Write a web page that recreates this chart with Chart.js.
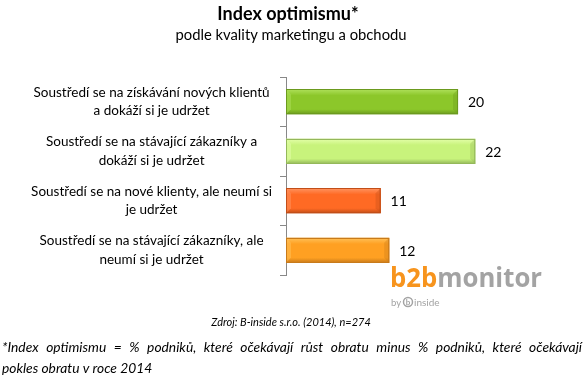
<!DOCTYPE html>
<html>
<head>
<meta charset="utf-8">
<script src="https://cdn.jsdelivr.net/npm/chart.js@4/dist/chart.umd.min.js"></script>
<style>
  html, body { margin: 0; padding: 0; background: #fff; }
  #wrap { width: 585px; height: 384px; position: relative; }
</style>
</head>
<body>
<div id="wrap"><canvas id="chart" width="585" height="384"></canvas></div>
<script>
const categories = [
    ['Soustředí se na získávání nových klientů', 'a dokáží si je udržet'],
    ['Soustředí se na stávající zákazníky a', 'dokáží si je udržet'],
    ['Soustředí se na nové klienty, ale neumí si', 'je udržet'],
    ['Soustředí se na stávající zákazníky, ale', 'neumí si je udržet']
];
const values = [20, 22, 11, 12];
const barColors = ['#8cc72a', '#c8f37c', '#ff6a24', '#ffa022'];
const barLight = ['#aee05a', '#e4ffaa', '#ff9460', '#ffc25a'];
const barDark = ['#6b9a1e', '#94b85a', '#c24e18', '#c87a1a'];

const FONT = 'Lato, "Open Sans", sans-serif';

// bevel look on top of the plain bars
const bevelPlugin = {
    id: 'bevel',
    afterDatasetsDraw(chart) {
        const ctx = chart.ctx;
        const meta = chart.getDatasetMeta(0);
        meta.data.forEach(function (bar, i) {
            const x0 = bar.base, x1 = bar.x;
            const h = bar.height, y0 = bar.y - h / 2, y1 = bar.y + h / 2;
            ctx.save();
            const g = ctx.createLinearGradient(0, y0, 0, y1);
            g.addColorStop(0, barLight[i]);
            g.addColorStop(0.25, barColors[i]);
            g.addColorStop(0.8, barColors[i]);
            g.addColorStop(1, barDark[i]);
            ctx.fillStyle = g;
            ctx.fillRect(x0, y0, x1 - x0, h);
            // right end bevel
            const b = 5;
            ctx.fillStyle = barDark[i];
            ctx.globalAlpha = 0.35;
            ctx.beginPath();
            ctx.moveTo(x1, y0);
            ctx.lineTo(x1 - b, y0 + b);
            ctx.lineTo(x1 - b, y1 - b);
            ctx.lineTo(x1, y1);
            ctx.closePath();
            ctx.fill();
            // left end bevel
            ctx.fillStyle = barLight[i];
            ctx.globalAlpha = 0.5;
            ctx.beginPath();
            ctx.moveTo(x0, y0);
            ctx.lineTo(x0 + b, y0 + b);
            ctx.lineTo(x0 + b, y1 - b);
            ctx.lineTo(x0, y1);
            ctx.closePath();
            ctx.fill();
            ctx.globalAlpha = 1;
            ctx.strokeStyle = barDark[i];
            ctx.lineWidth = 1;
            ctx.strokeRect(x0 + 0.5, Math.round(y0) + 0.5, x1 - x0 - 1, Math.round(h) - 1);
            // value label
            ctx.fillStyle = '#000';
            ctx.font = '14px ' + FONT;
            ctx.textAlign = 'left';
            ctx.textBaseline = 'middle';
            ctx.fillText(String(values[i]), x1 + 10, bar.y + 1);
            ctx.restore();
        });
    }
};

function justifyLine(ctx, text, x0, x1, y) {
    const words = text.split(' ');
    let total = 0;
    words.forEach(w => total += ctx.measureText(w).width);
    const gap = (x1 - x0 - total) / (words.length - 1);
    let x = x0;
    words.forEach(function (w) {
        ctx.fillText(w, x, y);
        x += ctx.measureText(w).width + gap;
    });
}

const textPlugin = {
    id: 'texts',
    afterDraw(chart) {
        const ctx = chart.ctx;
        ctx.save();
        ctx.fillStyle = '#000';
        ctx.textAlign = 'center';
        ctx.textBaseline = 'alphabetic';
        ctx.font = 'bold 18px ' + FONT;
        ctx.fillText('Index optimismu*', 288, 20);
        ctx.font = '14.8px ' + FONT;
        ctx.fillText('podle kvality marketingu a obchodu', 291, 40);

        // logo
        ctx.textAlign = 'left';
        ctx.font = 'bold 26px "Open Sans", ' + FONT;
        const wB = ctx.measureText('b2b').width;
        const wM = ctx.measureText('monitor').width;
        const sc = 152 / (wB + wM);
        ctx.save();
        ctx.translate(390, 287);
        ctx.scale(sc, 1);
        ctx.fillStyle = '#f7941d';
        ctx.fillText('b2b', 0, 0);
        ctx.fillStyle = '#a3a3a3';
        ctx.fillText('monitor', wB, 0);
        ctx.restore();
        ctx.fillStyle = '#a3a3a3';
        ctx.font = '9.5px ' + FONT;
        ctx.fillText('by', 391, 306);
        ctx.strokeStyle = '#a3a3a3';
        ctx.lineWidth = 1.5;
        ctx.beginPath();
        ctx.arc(408, 302, 4.5, 0, Math.PI * 2);
        ctx.stroke();
        ctx.font = 'bold 8px ' + FONT;
        ctx.textAlign = 'center';
        ctx.fillText('b', 408, 305);
        ctx.textAlign = 'left';
        ctx.font = '10px ' + FONT;
        ctx.fillText('inside', 414, 306);

        // source
        ctx.fillStyle = '#000';
        ctx.textAlign = 'center';
        ctx.font = 'italic 11px ' + FONT;
        ctx.fillText('Zdroj: B-inside s.r.o. (2014), n=274', 291, 326);

        // footnote
        ctx.textAlign = 'left';
        ctx.font = 'italic 13.8px ' + FONT;
        justifyLine(ctx, '*Index optimismu = % podniků, které očekávají růst obratu minus % podniků, které očekávají', 2, 582, 352);
        ctx.fillText('pokles obratu v roce 2014', 2, 373);
        ctx.restore();
    }
};

new Chart(document.getElementById('chart'), {
    type: 'bar',
    data: {
        labels: categories,
        datasets: [{
            data: values,
            backgroundColor: barColors,
            borderColor: barDark,
            borderWidth: 1,
            barThickness: 25
        }]
    },
    options: {
        indexAxis: 'y',
        responsive: false,
        animation: false,
        events: [],
        layout: { padding: { top: 77, bottom: 109, left: 0, right: 84 } },
        plugins: {
            legend: { display: false },
            tooltip: { enabled: false }
        },
        scales: {
            x: { display: false, min: 0, max: 25 },
            y: {
                afterFit: function (scale) { scale.width = 286; },
                border: { display: true, color: '#888888', width: 1 },
                grid: { display: true, drawOnChartArea: false, tickLength: 6, color: '#888888', offset: true },
                ticks: {
                    crossAlign: 'center',
                    padding: 8,
                    color: '#000',
                    font: { family: FONT, size: 13.5, lineHeight: 1.35 }
                }
            }
        }
    },
    plugins: [bevelPlugin, textPlugin]
});
</script>
</body>
</html>
